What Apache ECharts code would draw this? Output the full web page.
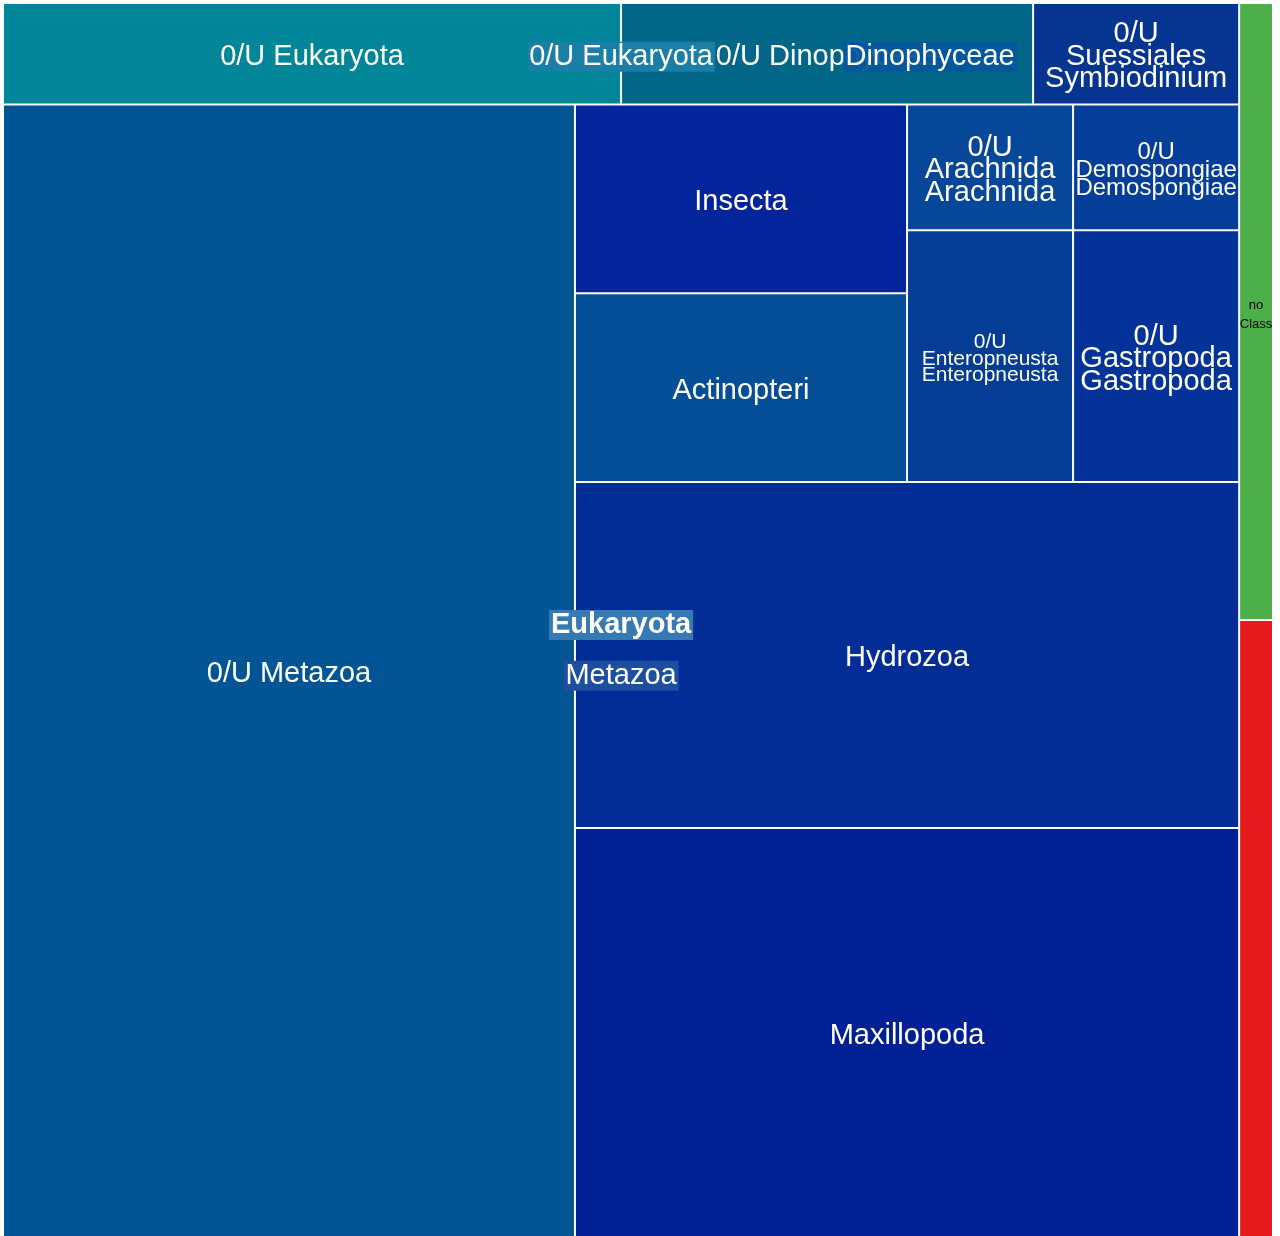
<!DOCTYPE html>
<html>
<head>
<meta charset="utf-8">
<script src="https://cdn.jsdelivr.net/npm/echarts@6/dist/echarts.min.js"></script>
<style>
html,body{margin:0;padding:0;background:#ffffff;}
#chart{width:1280px;height:1236px;}
</style>
</head>
<body>
<div id="chart"></div>
<script>
// ---------------- DATA ----------------
const leafNames = ['0/U Eukaryota', '0/U Dinophyceae', 'Symbiodinium', '0/U Metazoa', 'Insecta', 'Actinopteri',
  'Arachnida', 'Demospongiae', 'Enteropneusta', 'Gastropoda', 'Hydrozoa', 'Maxillopoda', 'no Class', 'other'];
const leafValues = [3, 2, 1, 31, 3, 3, 1, 1, 2, 2, 11, 13, 1, 1];
const leafLabels = ['0/U Eukaryota', '0/U Dinophyceae', '0/U\nSuessiales\nSymbiodinium', '0/U Metazoa', 'Insecta', 'Actinopteri',
  '0/U\nArachnida\nArachnida', '0/U\nDemospongiae\nDemospongiae', '0/U\nEnteropneusta\nEnteropneusta', '0/U\nGastropoda\nGastropoda',
  'Hydrozoa', 'Maxillopoda', 'no\nClass', ''];
// hierarchy (numbers = leaf indices); unnamed groups only hold siblings together
const hierarchy = [
  { name: 'Eukaryota', children: [
    { name: '0/U Eukaryota', children: [0, { name: 'Dinophyceae', children: [1, 2] }] },
    { name: 'Metazoa', children: [3, { name: '', children: [{ name: '', children: [4, 5, 6, 7, 8, 9] }, 10, 11] }] }
  ] },
  12, 13
];
// group labels drawn at the centre of their area
const groupLabelNames = ['Eukaryota', '0/U Eukaryota', 'Metazoa', 'Dinophyceae'];

// ---------------- STYLES ----------------
const leafColors = ['#018598', '#016687', '#053590', '#015594', '#04249c', '#034e97',
  '#06479a', '#043e98', '#043c96', '#033399', '#022c96', '#012095', '#4daf4a', '#e41a1c'];
const leafFontSizes = [29, 29, 29, 29, 29, 29, 29, 24, 21, 29, 29, 29, 13, 29];
const leafLineHeights = [30, 30, 22.5, 30, 30, 30, 22.5, 18, 16.5, 22.5, 30, 30, 19, 30];
const leafTextColors = ['#fff', '#fff', '#fff', '#fff', '#fff', '#fff', '#fff', '#fff', '#fff', '#fff', '#fff', '#fff', '#000', '#fff'];
const groupLabelBg = { 'Eukaryota': '#3779b3', '0/U Eukaryota': '#1a7ea6', 'Metazoa': '#1e4e9f', 'Dinophyceae': 'rgba(3,86,155,0.93)' };
const groupLabelWeight = { 'Eukaryota': 'bold', '0/U Eukaryota': 'normal', 'Metazoa': 'normal', 'Dinophyceae': 'normal' };
const groupLabelShift = { 'Eukaryota': 5, '0/U Eukaryota': 3, 'Metazoa': 5, 'Dinophyceae': 3 };
const FONT = "'Liberation Sans', Arial, Helvetica, sans-serif";
const BOX = { left: 4, top: 4, width: 1268, height: 1232 };

function sumOf(n) {
  return typeof n === 'number' ? leafValues[n] : n.children.reduce((s, c) => s + sumOf(c), 0);
}

function mainItem(n, path) {
  if (typeof n === 'number') {
    return {
      id: 'm' + path,
      name: leafNames[n],
      value: leafValues[n],
      itemStyle: { color: leafColors[n] },
      label: {
        show: leafLabels[n] !== '',
        formatter: leafLabels[n],
        fontSize: leafFontSizes[n],
        lineHeight: leafLineHeights[n],
        color: leafTextColors[n],
        fontFamily: FONT
      }
    };
  }
  return { id: 'm' + path, name: n.name, value: sumOf(n),
    children: n.children.map((c, i) => mainItem(c, path + '_' + i)) };
}

const chart = echarts.init(document.getElementById('chart'), null, { renderer: 'canvas' });
chart.setOption({
  backgroundColor: '#ffffff',
  tooltip: { show: false },
  series: [{
    type: 'treemap',
    id: 'main',
    left: BOX.left, top: BOX.top, width: BOX.width, height: BOX.height,
    roam: false,
    nodeClick: false,
    breadcrumb: { show: false },
    sort: false,
    squareRatio: 1.05,
    animation: false,
    emphasis: { disabled: true },
    itemStyle: { borderWidth: 0, gapWidth: 2, borderColor: '#ffffff' },
    label: {
      show: true,
      position: 'inside',
      align: 'center',
      verticalAlign: 'middle',
      offset: [0, 3],
      padding: 0,
      overflow: 'none',
      color: '#fff',
      fontSize: 29,
      fontFamily: FONT
    },
    upperLabel: { show: false },
    data: hierarchy.map((n, i) => mainItem(n, '_' + i))
  }]
});

// group labels at the centre of the group rectangles computed by the treemap layout
(function addGroupLabels() {
  try {
    const tree = chart.getModel().getSeriesByIndex(0).getData().tree;
    const elements = [];
    tree.root.eachNode(function (node) {
      if (!node.children || !node.children.length || node === tree.root) return;
      if (groupLabelNames.indexOf(node.name) < 0) return;
      let x = 0, y = 0, p = node;
      while (p) {
        const L = p.getLayout();
        if (L) { x += L.x || 0; y += L.y || 0; }
        p = p.parentNode;
      }
      const L0 = node.getLayout();
      elements.push({
        type: 'text',
        z: 100,
        silent: true,
        style: {
          text: node.name,
          x: BOX.left + x + L0.width / 2,
          y: BOX.top + y + L0.height / 2 + groupLabelShift[node.name],
          align: 'center',
          verticalAlign: 'middle',
          fill: '#ffffff',
          font: groupLabelWeight[node.name] + ' 29px ' + FONT,
          backgroundColor: groupLabelBg[node.name],
          padding: [1, 2, 0, 2]
        }
      });
    });
    chart.setOption({ graphic: { elements: elements } });
  } catch (e) { console.error(e); }
})();
</script>
</body>
</html>
